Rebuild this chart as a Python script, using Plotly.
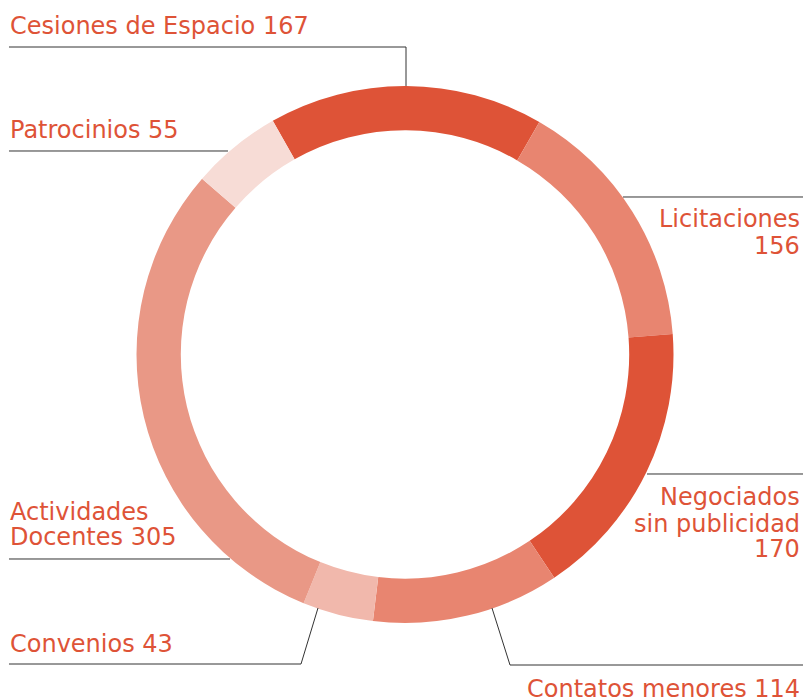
import plotly.graph_objects as go

categories = ["Cesiones de Espacio", "Licitaciones", "Negociados sin publicidad",
              "Contatos menores", "Convenios", "Actividades Docentes", "Patrocinios"]
values = [167, 156, 170, 114, 43, 305, 55]
colors = ["#DE5337", "#E88570", "#DE5337", "#E88570", "#F1B8AC", "#E99886", "#F7DCD6"]

# label text lines per category
label_lines = {
    "Cesiones de Espacio": [["Cesiones de Espacio 167"], "left"],
    "Licitaciones": [["Licitaciones", "156"], "right"],
    "Negociados sin publicidad": [["Negociados", "sin publicidad", "170"], "right"],
    "Contatos menores": [["Contatos menores 114"], "right"],
    "Convenios": [["Convenios 43"], "left"],
    "Actividades Docentes": [["Actividades", "Docentes 305"], "left"],
    "Patrocinios": [["Patrocinios 55"], "left"],
}

W, H = 804, 699
CX, CY, R = 405, 354.5, 268.5
TEXT_COLOR = "#DE5337"
LINE_COLOR = "#333333"
FONT = "DejaVu Sans"
FS = 24


def px(x):
    return x / W


def py(y):
    return 1 - y / H


fig = go.Figure(go.Pie(
    labels=categories,
    values=values,
    marker=dict(colors=colors, line=dict(width=0)),
    hole=0.835,
    sort=False,
    direction="clockwise",
    rotation=-29.5,
    textinfo="none",
    hoverinfo="label+value",
    domain=dict(x=[px(CX - R), px(CX + R)], y=[py(CY + R), py(CY - R)]),
    showlegend=False,
))

# label layout (pixel anchors: x, baselines)
label_pos = {
    "Cesiones de Espacio": (9, [34]),
    "Patrocinios": (9, [138]),
    "Licitaciones": (801, [227, 254]),
    "Negociados sin publicidad": (801, [505, 532, 557]),
    "Contatos menores": (801, [697]),
    "Actividades Docentes": (9, [520, 545]),
    "Convenios": (9, [652]),
}

leaders = {
    "Cesiones de Espacio": [(9, 47), (406, 47), (406, 86)],
    "Patrocinios": [(9, 151), (228, 151)],
    "Licitaciones": [(623, 197), (803, 197)],
    "Negociados sin publicidad": [(647, 474), (803, 474)],
    "Contatos menores": [(492, 608), (510, 665), (803, 665)],
    "Actividades Docentes": [(9, 559), (230, 559)],
    "Convenios": [(318, 608), (301, 664), (9, 664)],
}

annotations = []
for cat in categories:
    lines, align = label_lines[cat]
    x, baselines = label_pos[cat]
    for txt, b in zip(lines, baselines):
        annotations.append(dict(
            x=px(x), y=py(b - 8.3), xref="paper", yref="paper",
            text=txt, showarrow=False,
            xanchor=align, yanchor="middle", borderpad=0,
            font=dict(family=FONT, size=FS, color=TEXT_COLOR),
        ))

shapes = []
for cat in categories:
    pts = leaders[cat]
    path = "M " + " L ".join(f"{px(x):.5f},{py(y):.5f}" for x, y in pts)
    shapes.append(dict(type="path", path=path, xref="paper", yref="paper",
                       line=dict(color=LINE_COLOR, width=1)))

fig.update_layout(
    width=W, height=H,
    margin=dict(l=0, r=0, t=0, b=0),
    paper_bgcolor="white", plot_bgcolor="white",
    annotations=annotations,
    shapes=shapes,
)

fig.write_html(
    "out.html",
    config={"displayModeBar": False},
    post_script="document.body.style.margin='0';document.body.style.overflow='hidden';",
)
